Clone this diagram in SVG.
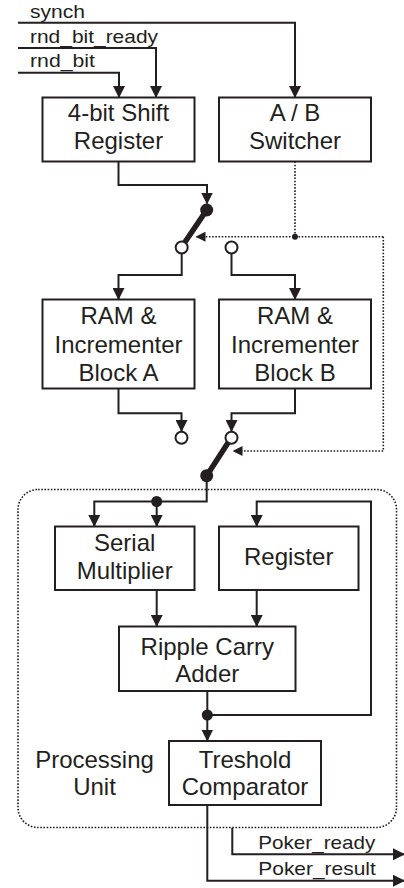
<svg xmlns="http://www.w3.org/2000/svg" width="404" height="888" viewBox="0 0 404 888">
<style>
.box{fill:#fff;stroke:#231f20;stroke-width:2}
.t{font-family:"Liberation Sans",Arial,sans-serif;font-size:24px;fill:#231f20;text-anchor:middle}
.s{font-family:"Liberation Sans",Arial,sans-serif;font-size:19px;fill:#231f20}
.w{fill:none;stroke:#231f20;stroke-width:2}
.d{fill:none;stroke:#231f20;stroke-width:1.6;stroke-dasharray:1.6 1.6}
.bar{stroke:#231f20;stroke-width:5.5;stroke-linecap:round}
.oc{fill:#fff;stroke:#231f20;stroke-width:2}
.fc{fill:#231f20}
</style>
<defs>
<marker id="a" markerUnits="userSpaceOnUse" markerWidth="12" markerHeight="12" viewBox="0 0 12 12" refX="11" refY="6" orient="auto">
<path d="M0,0 L12,6 L0,12 Z" fill="#231f20"/>
</marker>
<marker id="ad" markerUnits="userSpaceOnUse" markerWidth="10" markerHeight="10" viewBox="0 0 10 10" refX="9" refY="5" orient="auto">
<path d="M0,0 L10,5 L0,10 Z" fill="#231f20"/>
</marker>
</defs>

<g id="processing-unit">
<rect x="18" y="489.5" width="378.5" height="338" rx="20" class="d"/>
<text class="t" x="94.5" y="767.7">Processing</text>
<text class="t" x="94.5" y="795">Unit</text>
</g>

<g id="connectors">
<path class="w" d="M18,22.7 H295 V97" marker-end="url(#a)"/>
<path class="w" d="M18,48 H156 V97" marker-end="url(#a)"/>
<path class="w" d="M18,72.7 H119 V97" marker-end="url(#a)"/>
<path class="w" d="M118.5,161.5 V185 H207 V203.5" marker-end="url(#a)"/>
<path class="d" d="M295,161.5 V236.7"/>
<path class="d" d="M383.3,236.7 H196.5" marker-end="url(#ad)"/>
<path class="d" d="M383.3,236.7 V451 H233.5" marker-end="url(#ad)"/>
<circle class="fc" cx="295" cy="236.7" r="3"/>
<path class="w" d="M181.7,254 V275 H118.5 V299" marker-end="url(#a)"/>
<path class="w" d="M231.5,254 V275 H295 V299" marker-end="url(#a)"/>
<path class="w" d="M118.5,388.5 V413.3 H181.5 V431" marker-end="url(#a)"/>
<path class="w" d="M295,388.5 V413.3 H231.5 V431" marker-end="url(#a)"/>
<path class="w" d="M206.7,475.7 V501.5 H94.3 V526" marker-end="url(#a)"/>
<path class="w" d="M156.7,501.5 V526" marker-end="url(#a)"/>
<circle class="fc" cx="156.7" cy="501.5" r="5.5"/>
<path class="w" d="M156.7,590 V626" marker-end="url(#a)"/>
<path class="w" d="M256.7,590 V626" marker-end="url(#a)"/>
<path class="w" d="M207.3,691 V740.5" marker-end="url(#a)"/>
<path class="w" d="M207.3,715 H371 V501.5 H256.7 V526" marker-end="url(#a)"/>
<circle class="fc" cx="207.3" cy="715" r="5.5"/>
<path class="w" d="M207.3,805 V880.7 H404" marker-end="url(#a)"/>
<path class="w" d="M232.3,827.7 V854.3 H404" marker-end="url(#a)"/>
</g>

<g id="labels">
<text class="s" x="30" y="17.5" textLength="55" lengthAdjust="spacingAndGlyphs">synch</text>
<text class="s" x="30" y="42.5" textLength="128" lengthAdjust="spacingAndGlyphs">rnd_bit_ready</text>
<text class="s" x="30" y="66.5" textLength="65" lengthAdjust="spacingAndGlyphs">rnd_bit</text>
<text class="s" x="258.3" y="849.3" textLength="117" lengthAdjust="spacingAndGlyphs">Poker_ready</text>
<text class="s" x="258.3" y="875" textLength="117.5" lengthAdjust="spacingAndGlyphs">Poker_result</text>
</g>

<g id="switch-1">
<line class="bar" x1="206.7" y1="210" x2="184" y2="243.5"/>
<circle class="fc" cx="206.7" cy="210" r="6.5"/>
<circle class="oc" cx="181.7" cy="247.5" r="6"/>
<circle class="oc" cx="231.5" cy="247.5" r="6"/>
</g>

<g id="switch-2">
<line class="bar" x1="206.7" y1="475.7" x2="228.5" y2="442"/>
<circle class="oc" cx="181.5" cy="437.7" r="6"/>
<circle class="oc" cx="231.5" cy="437.7" r="6"/>
<circle class="fc" cx="206.7" cy="475.7" r="6.5"/>
</g>

<g id="shift-register">
<rect class="box" x="42.5" y="97.5" width="152" height="64"/>
<text class="t" x="118.5" y="121">4-bit Shift</text>
<text class="t" x="118.5" y="149">Register</text>
</g>
<g id="ab-switcher">
<rect class="box" x="219" y="97.5" width="152" height="64"/>
<text class="t" x="295" y="121">A / B</text>
<text class="t" x="295" y="149">Switcher</text>
</g>
<g id="ram-a">
<rect class="box" x="42.5" y="299.5" width="152" height="89"/>
<text class="t" x="118.5" y="324.3">RAM &amp;</text>
<text class="t" x="118.5" y="352.7">Incrementer</text>
<text class="t" x="118.5" y="380.5">Block A</text>
</g>
<g id="ram-b">
<rect class="box" x="219" y="299.5" width="152" height="89"/>
<text class="t" x="295" y="324.3">RAM &amp;</text>
<text class="t" x="295" y="352.7">Incrementer</text>
<text class="t" x="295" y="380.5">Block B</text>
</g>
<g id="serial-multiplier">
<rect class="box" x="55" y="526.5" width="139.5" height="63.5"/>
<text class="t" x="124.7" y="551">Serial</text>
<text class="t" x="124.7" y="579">Multiplier</text>
</g>
<g id="register">
<rect class="box" x="219" y="526.5" width="139.5" height="63.5"/>
<text class="t" x="288.7" y="565">Register</text>
</g>
<g id="ripple-carry-adder">
<rect class="box" x="119" y="626.5" width="176.5" height="64.5"/>
<text class="t" x="207.3" y="655">Ripple Carry</text>
<text class="t" x="207.3" y="682">Adder</text>
</g>
<g id="treshold-comparator">
<rect class="box" x="169" y="741" width="152" height="64"/>
<text class="t" x="245" y="767.7">Treshold</text>
<text class="t" x="245" y="795">Comparator</text>
</g>
</svg>
